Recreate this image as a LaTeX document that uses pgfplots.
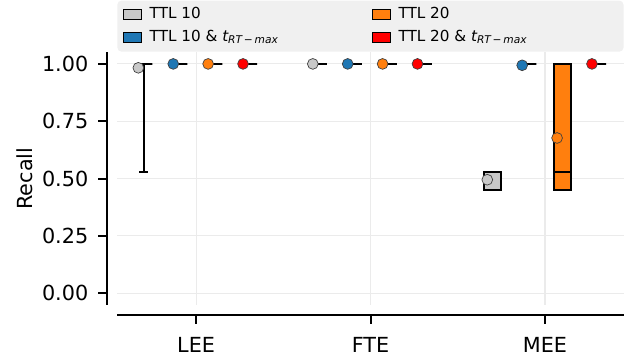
\documentclass[border=0pt]{standalone}
\usepackage{pgfplots}
\pgfplotsset{compat=1.18}
\usepgfplotslibrary{statistics}
\usepackage{fontspec}
\setmainfont{DejaVu Sans}

\definecolor{ttlgray}{RGB}{200,200,200}
\definecolor{ttlblue}{RGB}{31,119,180}
\definecolor{ttlorange}{RGB}{255,127,14}
\definecolor{ttlred}{RGB}{255,0,0}
\definecolor{gridgray}{RGB}{235,235,235}
\definecolor{legendbg}{RGB}{240,240,240}
\definecolor{markedge}{RGB}{64,64,64}

\pgfplotsset{
  % box outline shared by all boxes (vertical boxes)
  rbox/.style={draw=black, fill=#1, line width=1.5pt, solid, mark=none,
    boxplot/draw direction=y,
    boxplot/box extend=0.1, boxplot/whisker extend=0.05},
  % mean markers
  rmean/.style={only marks, mark=*, mark size=3.9pt,
    mark options={fill=#1, draw=markedge, line width=0.5pt}},
}

\newcommand{\tsub}{{\itshape t}\textsubscript{\itshape RT\,−\,max}}

\begin{document}
\begin{tikzpicture}
\path[use as bounding box] (0pt,0pt) rectangle (461.8pt,260.2pt);
\begin{axis}[
  at={(84.6pt,40.0pt)}, anchor=south west,
  scale only axis, width=366.4pt, height=182.3pt,
  xmin=-0.453, xmax=2.453, ymin=-0.05, ymax=1.05,
  axis x line*=bottom, axis y line*=left,
  axis line style={-, line width=1.45pt, black},
  x axis line style={yshift=-7.23pt},
  y axis line style={xshift=-7.23pt},
  tick align=outside, major tick length=6.5pt,
  xtick style={yshift=-7.23pt, line width=1.45pt, black},
  ytick style={xshift=-7.23pt, line width=1.45pt, black},
  xticklabel style={yshift=-13.7pt},
  yticklabel style={xshift=-10.8pt, /pgf/number format/fixed,
    /pgf/number format/fixed zerofill, /pgf/number format/precision=2},
  scaled y ticks=false,
  /pgf/number format/assume math mode=true,
  tick label style={font=\fontsize{15}{18}\selectfont},
  xtick={0,1,2}, xticklabels={LEE,FTE,MEE},
  ytick={0,0.25,0.5,0.75,1},
  grid=major, grid style={gridgray, line width=0.8pt},
  ylabel={Recall},
  ylabel style={font=\fontsize{15}{18}\selectfont,
    at={(axis description cs:-0.182,0.5)}, anchor=center},
  legend columns=2,
  legend cell align=left,
  legend style={at={(0,1.002)}, anchor=south west, fill=legendbg, draw=none,
    rounded corners=3pt, inner xsep=4.3pt, inner ysep=2.2pt,
    font=\fontsize{11}{13}\selectfont,
    nodes={inner xsep=0pt, inner ysep=2.8pt, text height=7.8pt, text depth=2.6pt},
    /tikz/row sep=0.5pt},
]
% legend patches (row-wise: TTL 10, TTL 20, TTL 10 & t, TTL 20 & t)
\pgfplotsset{legendpatch/.style={draw=black, line width=0.6pt, sharp corners,
  legend image code/.code={
    \draw[##1] (0pt,-3.6pt) rectangle (13pt,3.6pt);
    \path[draw=none, fill=none] (18.8pt,0pt);}}}
\addlegendimage{legendpatch, fill=ttlgray}
\addlegendentry{\makebox[160.7pt][l]{TTL 10}}
\addlegendimage{legendpatch, fill=ttlorange}
\addlegendentry{\makebox[158.3pt][l]{TTL 20}}
\addlegendimage{legendpatch, fill=ttlblue}
\addlegendentry{\makebox[160.7pt][l]{TTL 10 \& \tsub}}
\addlegendimage{legendpatch, fill=ttlred}
\addlegendentry{\makebox[158.3pt][l]{TTL 20 \& \tsub}}

% LEE
\addplot+[rbox=ttlgray, boxplot prepared={draw position=-0.3, lower whisker=0.53,
  lower quartile=1, median=1, upper quartile=1, upper whisker=1}] coordinates {};
\addplot+[rbox=ttlblue, boxplot prepared={draw position=-0.1, lower whisker=1,
  lower quartile=1, median=1, upper quartile=1, upper whisker=1}] coordinates {};
\addplot+[rbox=ttlorange, boxplot prepared={draw position=0.1, lower whisker=1,
  lower quartile=1, median=1, upper quartile=1, upper whisker=1}] coordinates {};
\addplot+[rbox=ttlred, boxplot prepared={draw position=0.3, lower whisker=1,
  lower quartile=1, median=1, upper quartile=1, upper whisker=1}] coordinates {};
% FTE
\addplot+[rbox=ttlgray, boxplot prepared={draw position=0.7, lower whisker=1,
  lower quartile=1, median=1, upper quartile=1, upper whisker=1}] coordinates {};
\addplot+[rbox=ttlblue, boxplot prepared={draw position=0.9, lower whisker=1,
  lower quartile=1, median=1, upper quartile=1, upper whisker=1}] coordinates {};
\addplot+[rbox=ttlorange, boxplot prepared={draw position=1.1, lower whisker=1,
  lower quartile=1, median=1, upper quartile=1, upper whisker=1}] coordinates {};
\addplot+[rbox=ttlred, boxplot prepared={draw position=1.3, lower whisker=1,
  lower quartile=1, median=1, upper quartile=1, upper whisker=1}] coordinates {};
% MEE
\addplot+[rbox=ttlgray, boxplot prepared={draw position=1.7, lower whisker=0.45,
  lower quartile=0.45, median=0.53, upper quartile=0.53, upper whisker=0.53}] coordinates {};
\addplot+[rbox=ttlblue, boxplot prepared={draw position=1.9, lower whisker=1,
  lower quartile=1, median=1, upper quartile=1, upper whisker=1}] coordinates {};
\addplot+[rbox=ttlorange, boxplot prepared={draw position=2.1, lower whisker=0.45,
  lower quartile=0.45, median=0.53, upper quartile=1, upper whisker=1}] coordinates {};
\addplot+[rbox=ttlred, boxplot prepared={draw position=2.3, lower whisker=1,
  lower quartile=1, median=1, upper quartile=1, upper whisker=1}] coordinates {};

% means
\addplot[rmean=ttlgray] coordinates {(-0.331,0.983) (0.669,1.0) (1.669,0.495)};
\addplot[rmean=ttlblue] coordinates {(-0.131,1.0) (0.869,1.0) (1.869,0.994)};
\addplot[rmean=ttlorange] coordinates {(0.069,1.0) (1.069,1.0) (2.069,0.677)};
\addplot[rmean=ttlred] coordinates {(0.269,1.0) (1.269,1.0) (2.269,1.0)};
\end{axis}
\end{tikzpicture}
\end{document}
